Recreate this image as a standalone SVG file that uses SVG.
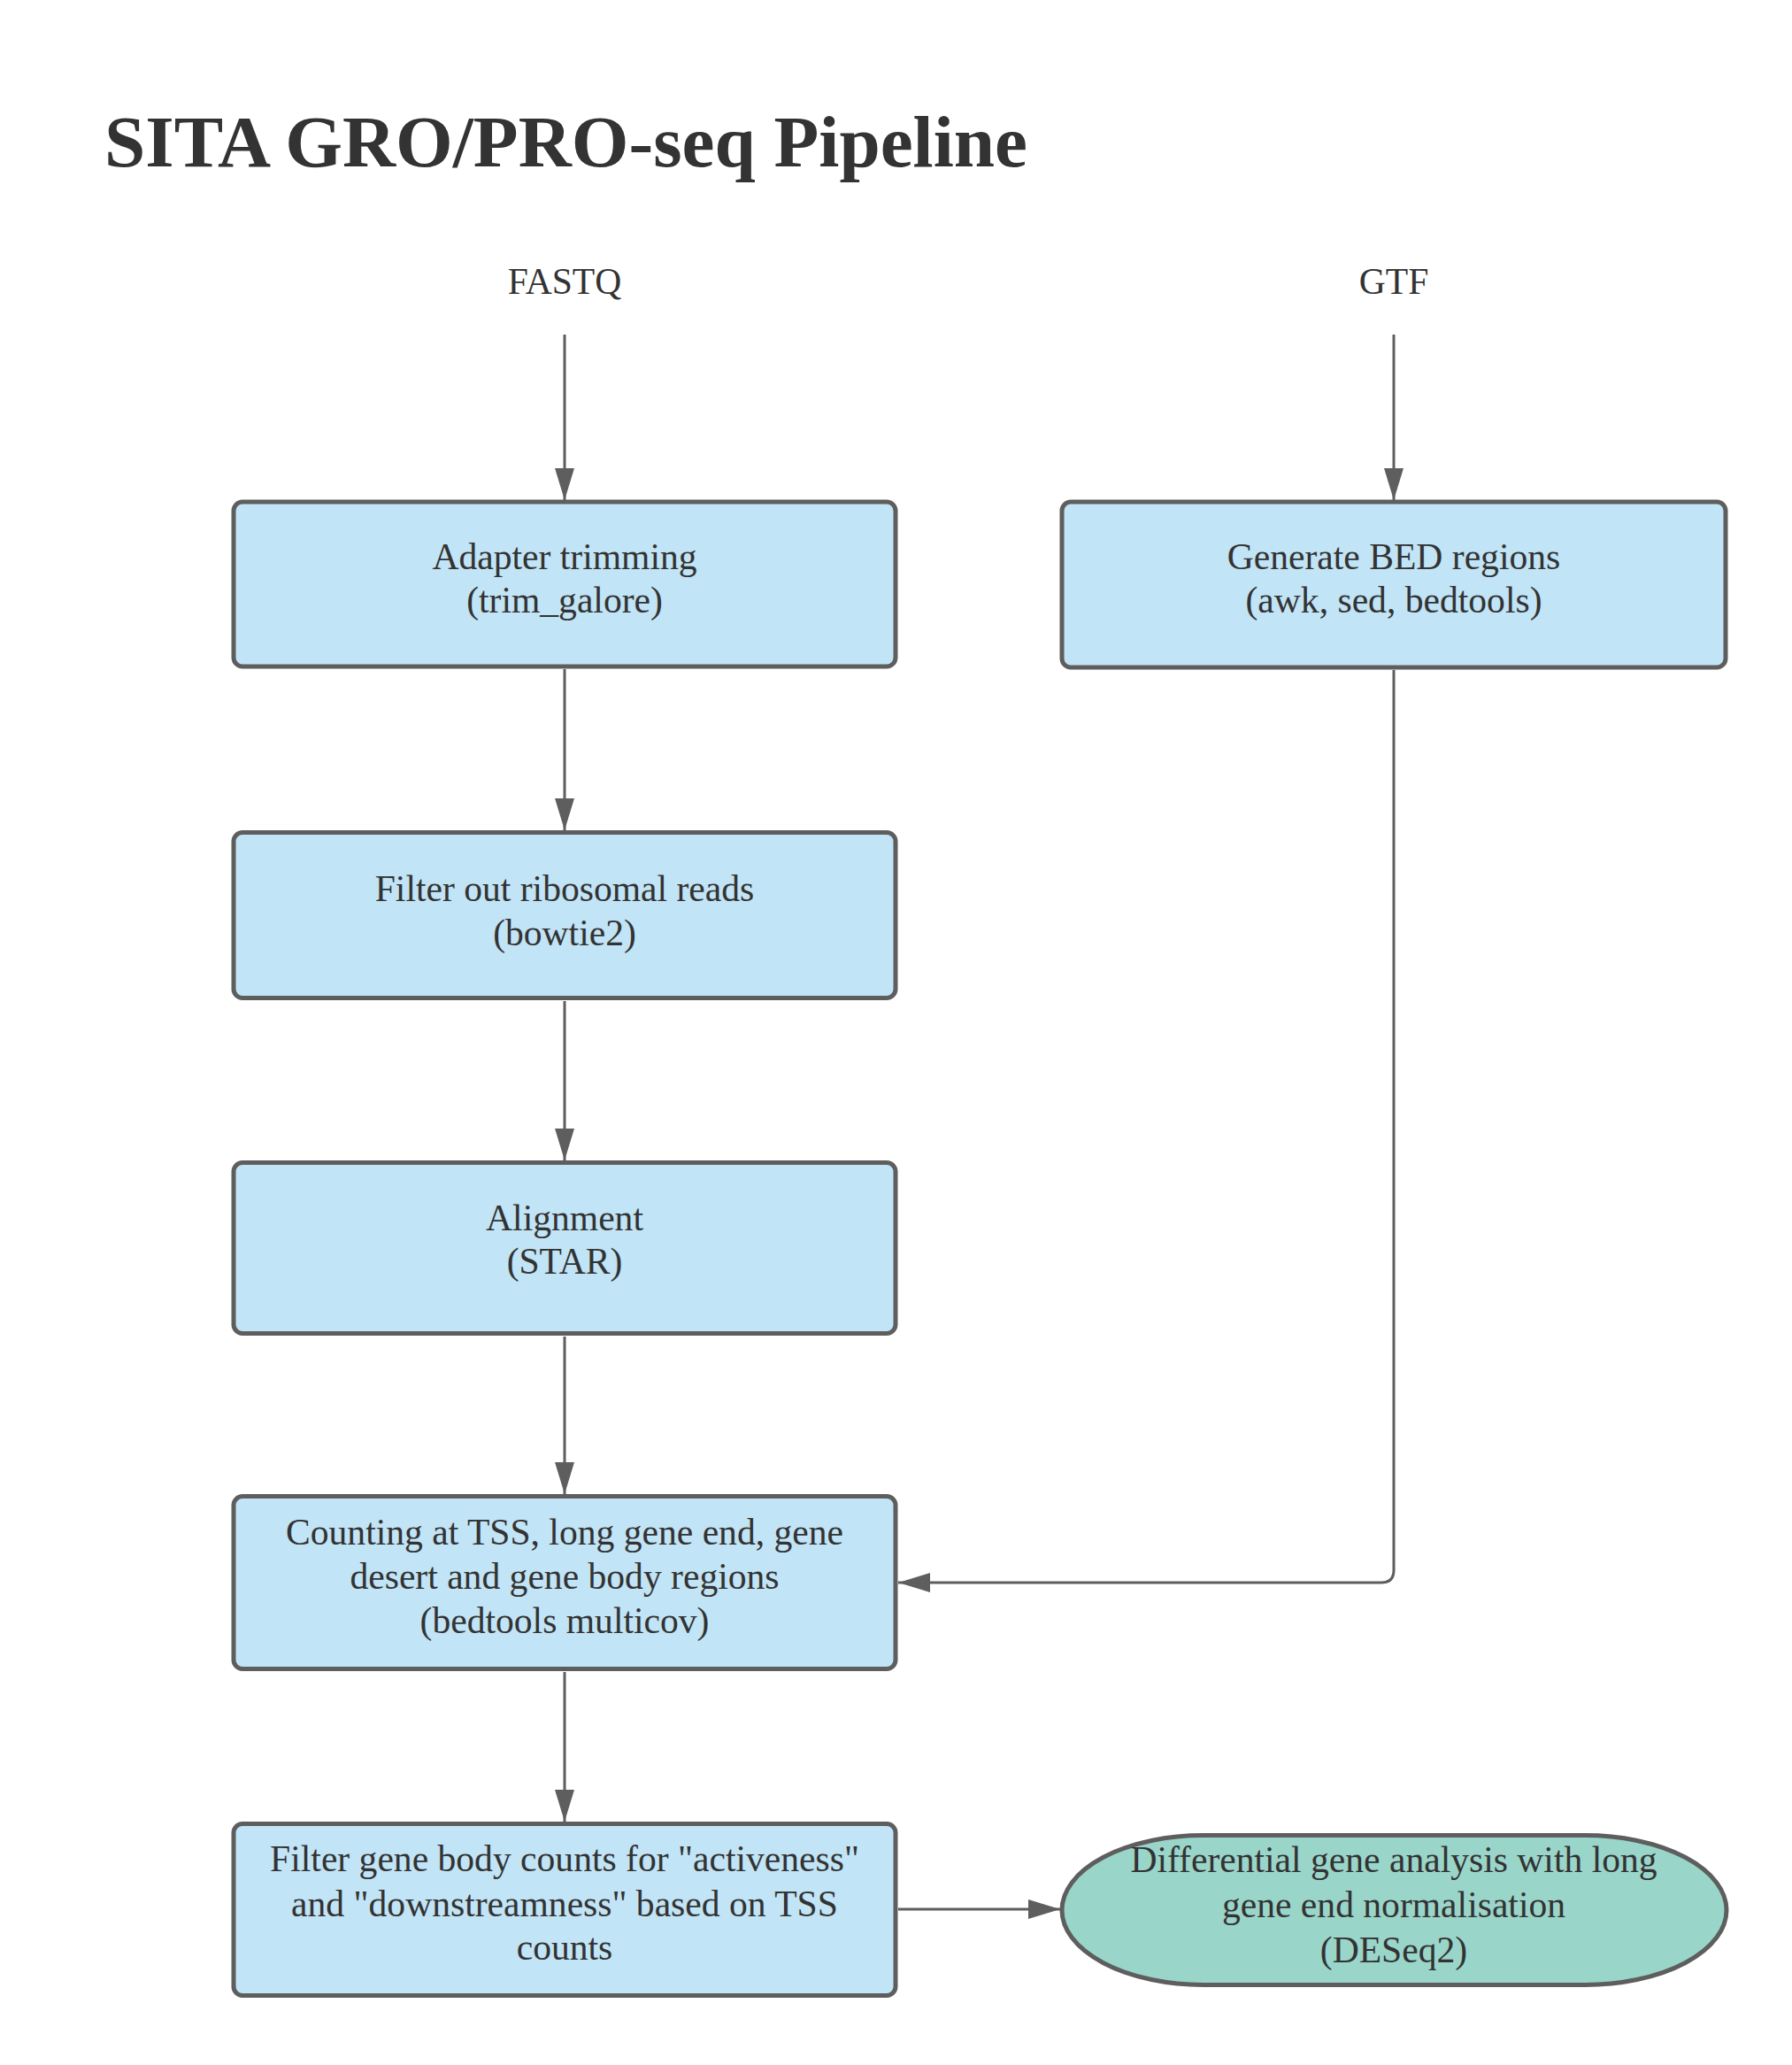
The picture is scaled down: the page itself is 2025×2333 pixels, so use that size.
<svg xmlns="http://www.w3.org/2000/svg" width="2025" height="2333" viewBox="0 0 2025 2333">
<style>
.box{fill:#c1e4f6;stroke:#5e5e5e;stroke-width:5}
.term{fill:#9ad5ca;stroke:#5e5e5e;stroke-width:5}
.t{font-family:"Liberation Serif","Times New Roman",serif;font-size:41.6px;fill:#333333;text-anchor:middle}
.title{font-family:"Liberation Serif","Times New Roman",serif;font-size:83.2px;font-weight:bold;fill:#333333}
.c{fill:none;stroke:#5e5e5e;stroke-width:3;marker-end:url(#arr)}
</style>
<defs>
<marker id="arr" markerUnits="userSpaceOnUse" markerWidth="36" markerHeight="22" refX="36" refY="11" orient="auto">
<path d="M0 0 L36 11 L0 22 Z" fill="#5e5e5e"/>
</marker>
</defs>
<rect width="2025" height="2333" fill="#ffffff"/>
<text class="title" x="118" y="188">SITA GRO/PRO-seq Pipeline</text>

<g id="fastq"><text class="t" x="638" y="332">FASTQ</text></g>
<g id="gtf"><text class="t" x="1575" y="332">GTF</text></g>

<g id="connectors">
<path class="c" d="M638 378 V565"/>
<path class="c" d="M1575 378 V565"/>
<path class="c" d="M638 756 V938"/>
<path class="c" d="M638 1131 V1311"/>
<path class="c" d="M638 1510 V1688"/>
<path class="c" d="M638 1889 V2058"/>
<path class="c" d="M1575 757 V1774 Q1575 1788 1561 1788 H1015"/>
<path class="c" d="M1015 2157 H1198"/>
</g>

<g id="trim">
<rect class="box" x="264" y="567" width="748" height="186" rx="10"/>
<text class="t" x="638" y="643">Adapter trimming</text>
<text class="t" x="638" y="692">(trim_galore)</text>
</g>
<g id="bed">
<rect class="box" x="1200" y="567" width="750" height="187" rx="10"/>
<text class="t" x="1575" y="643">Generate BED regions</text>
<text class="t" x="1575" y="692">(awk, sed, bedtools)</text>
</g>
<g id="ribo">
<rect class="box" x="264" y="940.5" width="748" height="187" rx="10"/>
<text class="t" x="638" y="1018">Filter out ribosomal reads</text>
<text class="t" x="638" y="1068">(bowtie2)</text>
</g>
<g id="align">
<rect class="box" x="264" y="1313.5" width="748" height="193" rx="10"/>
<text class="t" x="638" y="1390">Alignment</text>
<text class="t" x="638" y="1439">(STAR)</text>
</g>
<g id="count">
<rect class="box" x="264" y="1690.5" width="748" height="195" rx="10"/>
<text class="t" x="638" y="1745">Counting at TSS, long gene end, gene</text>
<text class="t" x="638" y="1795">desert and gene body regions</text>
<text class="t" x="638" y="1845">(bedtools multicov)</text>
</g>
<g id="filter">
<rect class="box" x="264" y="2060.5" width="748" height="194" rx="10"/>
<text class="t" x="638" y="2114">Filter gene body counts for "activeness"</text>
<text class="t" x="638" y="2165">and "downstreamness" based on TSS</text>
<text class="t" x="638" y="2214">counts</text>
</g>
<g id="deseq">
<rect class="term" x="1200" y="2073.5" width="751" height="169" rx="160" ry="84.5"/>
<text class="t" x="1575" y="2115">Differential gene analysis with long</text>
<text class="t" x="1575" y="2166">gene end normalisation</text>
<text class="t" x="1575" y="2217">(DESeq2)</text>
</g>
</svg>
